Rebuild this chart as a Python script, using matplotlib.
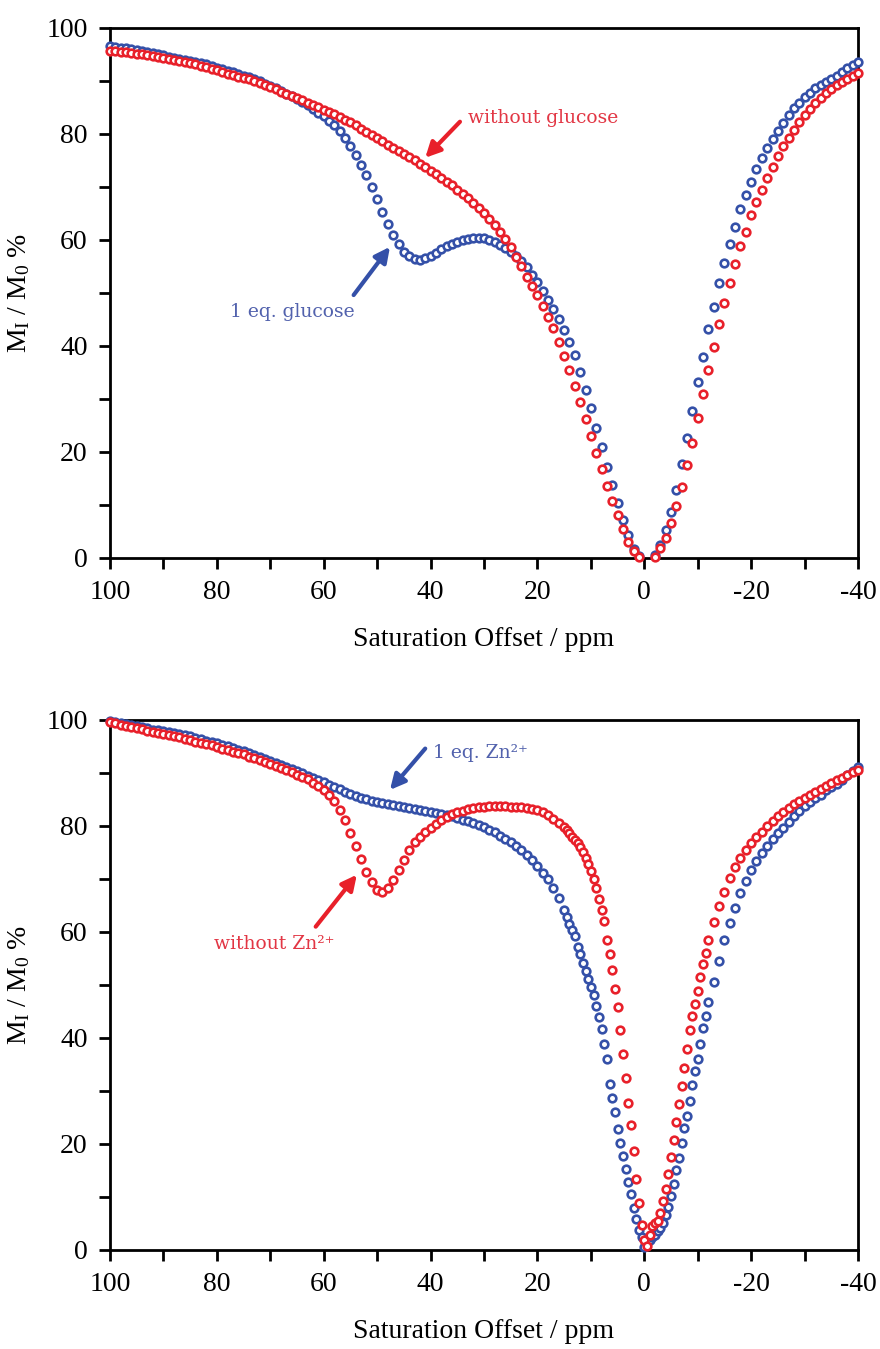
import numpy as np
import matplotlib
matplotlib.use('Agg')
import matplotlib.pyplot as plt
from matplotlib.ticker import MultipleLocator

plt.rcParams['font.family'] = ['Liberation Serif', 'DejaVu Serif']
plt.rcParams['mathtext.fontset'] = 'custom'
plt.rcParams['mathtext.rm'] = 'Liberation Serif'
plt.rcParams['mathtext.it'] = 'Liberation Serif:italic'
plt.rcParams['axes.unicode_minus'] = False

# ---- top panel: glucose, 1 ppm steps from 100 to -40 ----
ppm_top = np.arange(100, -40.5, -1.0)
top_without = [
    95.7, 95.6, 95.5, 95.4, 95.3, 95.1, 95.0, 94.8, 94.7, 94.5,   # 100..91
    94.3, 94.1, 93.9, 93.7, 93.5, 93.3, 93.1, 92.9, 92.6, 92.3,   # 90..81
    92.0, 91.7, 91.4, 91.1, 90.8, 90.6, 90.3, 90.0, 89.6, 89.2,   # 80..71
    88.8, 88.4, 88.0, 87.6, 87.2, 86.8, 86.4, 85.9, 85.5, 85.1,   # 70..61
    84.6, 84.2, 83.7, 83.2, 82.7, 82.2, 81.6, 81.0, 80.4, 79.8,   # 60..51
    79.2, 78.6, 78.0, 77.4, 76.8, 76.2, 75.6, 75.0, 74.4, 73.8,   # 50..41
    73.1, 72.4, 71.7, 71.0, 70.3, 69.5, 68.7, 67.9, 67.0, 66.1,   # 40..31
    65.1, 64.0, 62.8, 61.5, 60.2, 58.6, 56.8, 55.0, 53.0, 51.3,   # 30..21
    49.6, 47.5, 45.5, 43.4, 40.8, 38.1, 35.5, 32.5, 29.4, 26.2,   # 20..11
    23.0, 19.8, 16.8, 13.6, 10.8, 8.1, 5.5, 3.0, 1.3, 0.1,        # 10..1
    np.nan, np.nan, 0.1, 1.9, 3.8, 6.6, 9.8, 13.4, 17.5, 21.7,    # 0..-9
    26.4, 30.9, 35.5, 39.8, 44.2, 48.1, 51.9, 55.5, 58.9, 61.5,   # -10..-19
    64.7, 67.2, 69.4, 71.7, 73.8, 75.8, 77.7, 79.3, 80.8, 82.2,   # -20..-29
    83.5, 84.7, 85.8, 86.8, 87.7, 88.5, 89.2, 89.8, 90.4, 91.0,   # -30..-39
    91.5]
top_glucose = [
    96.5, 96.4, 96.3, 96.2, 96.0, 95.8, 95.6, 95.4, 95.2, 95.0,
    94.8, 94.6, 94.4, 94.2, 94.0, 93.8, 93.6, 93.4, 93.1, 92.8,
    92.5, 92.2, 91.9, 91.6, 91.3, 91.0, 90.7, 90.3, 89.9, 89.5,
    89.1, 88.6, 88.1, 87.6, 87.1, 86.6, 86.0, 85.4, 84.7, 84.0,
    83.3, 82.5, 81.6, 80.5, 79.2, 77.7, 76.1, 74.2, 72.2, 70.0,
    67.7, 65.3, 63.0, 61.0, 59.2, 57.8, 56.9, 56.4, 56.3, 56.5,
    57.0, 57.6, 58.2, 58.8, 59.3, 59.7, 60.0, 60.2, 60.4, 60.4,
    60.3, 60.0, 59.6, 59.1, 58.5, 57.8, 57.0, 56.0, 54.8, 53.4,
    52.0, 50.4, 48.7, 46.9, 45.0, 43.0, 40.7, 38.2, 35.0, 31.6,
    28.2, 24.6, 20.9, 17.2, 13.7, 10.3, 7.2, 4.3, 1.7, 0.3,
    np.nan, np.nan, 0.6, 2.5, 5.3, 8.7, 12.8, 17.7, 22.6, 27.7,
    33.2, 38.0, 43.2, 47.4, 51.9, 55.7, 59.2, 62.5, 65.8, 68.5,
    70.9, 73.4, 75.5, 77.4, 79.0, 80.6, 82.1, 83.5, 84.8, 85.9,
    86.9, 87.8, 88.6, 89.3, 89.8, 90.3, 91.0, 91.7, 92.4, 93.0,
    93.5]

# ---- bottom panel: Zn2+, 1 ppm outside, 0.5 ppm around the water peak ----
ppm_bot = np.concatenate([np.arange(100, 15.5, -1.0),
                          np.arange(15, -11.75, -0.5),
                          np.arange(-12, -40.5, -1.0)])
bot_without = [
    # 100..16
    99.6, 99.4, 99.1, 98.9, 98.7, 98.5, 98.3, 98.0, 97.8, 97.6,
    97.4, 97.2, 96.9, 96.7, 96.4, 96.2, 95.9, 95.7, 95.4, 95.2,
    94.9, 94.6, 94.3, 94.0, 93.7, 93.5, 93.1, 92.8, 92.4, 92.0,
    91.7, 91.3, 90.9, 90.5, 90.1, 89.7, 89.3, 88.8, 88.2, 87.6,
    86.8, 85.9, 84.7, 83.1, 81.1, 78.7, 76.2, 73.7, 71.4, 69.4,
    68.0, 67.6, 68.3, 69.8, 71.7, 73.6, 75.4, 76.9, 78.0, 78.9,
    79.7, 80.4, 81.1, 81.7, 82.2, 82.6, 82.9, 83.2, 83.4, 83.5,
    83.6, 83.7, 83.8, 83.8, 83.7, 83.6, 83.6, 83.5, 83.4, 83.2,
    83.0, 82.6, 82.1, 81.4, 80.6,
    # 15..-11.5
    79.8, 79.2, 78.6, 77.9, 77.3, 76.7, 76.0, 75.1, 74.0, 72.8,
    71.5, 70.0, 68.3, 66.2, 64.2, 62.0, 58.5, 55.8, 52.8, 49.2,
    45.8, 41.5, 37.0, 32.4, 27.8, 23.5, 18.6, 13.4, 8.8, 4.8,
    1.8, 0.8, 2.9, 4.5, 5.0, 5.4, 7.0, 9.2, 11.6, 14.3,
    17.6, 20.8, 24.2, 27.5, 31.0, 34.4, 38.0, 41.5, 44.2, 46.5,
    48.8, 51.5, 54.0, 56.1,
    # -12..-40
    58.4, 61.8, 64.9, 67.6, 70.1, 72.2, 74.0, 75.5, 76.8, 77.9,
    78.9, 80.0, 81.0, 81.9, 82.7, 83.4, 84.1, 84.8, 85.3, 85.8,
    86.4, 87.0, 87.5, 88.1, 88.6, 89.1, 89.7, 90.2, 90.6]
bot_zinc = [
    # 100..16
    99.8, 99.6, 99.4, 99.2, 99.0, 98.8, 98.6, 98.4, 98.2, 98.1,
    97.9, 97.7, 97.5, 97.3, 97.1, 96.9, 96.6, 96.4, 96.1, 95.9,
    95.6, 95.3, 95.0, 94.7, 94.4, 94.1, 93.8, 93.4, 93.0, 92.6,
    92.3, 91.9, 91.5, 91.1, 90.7, 90.3, 89.9, 89.5, 89.1, 88.7,
    88.3, 87.8, 87.3, 86.9, 86.4, 86.0, 85.6, 85.3, 85.0, 84.7,
    84.5, 84.3, 84.1, 84.0, 83.8, 83.6, 83.4, 83.2, 83.0, 82.8,
    82.6, 82.4, 82.3, 82.0, 81.8, 81.5, 81.2, 80.9, 80.6, 80.2,
    79.8, 79.3, 78.8, 78.2, 77.6, 77.0, 76.2, 75.4, 74.5, 73.5,
    72.4, 71.2, 69.9, 68.3, 66.4,
    # 15..-11.5
    64.2, 62.9, 61.5, 60.4, 59.2, 57.1, 55.9, 54.2, 52.6, 51.2,
    49.7, 48.1, 46.1, 43.9, 41.6, 38.9, 36.0, 31.4, 28.6, 26.0,
    22.9, 20.1, 17.7, 15.2, 12.8, 10.5, 8.0, 5.9, 3.8, 2.4,
    0.5, 1.3, 1.9, 2.4, 2.9, 3.5, 4.2, 5.1, 6.6, 8.2,
    10.1, 12.4, 15.1, 17.4, 20.1, 23.1, 25.3, 28.1, 31.1, 33.8,
    36.0, 38.9, 41.8, 44.2,
    # -12..-40
    46.7, 50.5, 54.6, 58.4, 61.6, 64.6, 67.4, 69.6, 71.6, 73.4,
    74.9, 76.3, 77.5, 78.6, 79.7, 80.8, 81.8, 82.8, 83.7, 84.5,
    85.2, 85.9, 86.7, 87.4, 88.0, 88.7, 89.6, 90.4, 91.2]

blue = '#3450a8'
red = '#e8202a'
blue_txt = '#5262ad'
red_txt = '#e23644'

fig = plt.figure(figsize=(8.8, 13.49), dpi=100)
ax1 = fig.add_axes([0.125, 0.5864, 0.85, 0.3929])
ax2 = fig.add_axes([0.125, 0.0734, 0.85, 0.3929])


def style(ax):
    ax.set_xlim(100, -40)
    ax.set_ylim(0, 100)
    ax.xaxis.set_major_locator(MultipleLocator(20))
    ax.xaxis.set_minor_locator(MultipleLocator(10))
    ax.yaxis.set_major_locator(MultipleLocator(20))
    ax.yaxis.set_minor_locator(MultipleLocator(10))
    ax.tick_params(which='both', direction='out', length=8, width=2,
                   top=False, right=False)
    ax.tick_params(which='major', labelsize=20, pad=8)
    for s in ax.spines.values():
        s.set_linewidth(2)
    ax.set_xlabel('Saturation Offset / ppm', fontsize=20, labelpad=16)
    ax.set_ylabel('M$_\\mathrm{I}$ / M$_0$ %', fontsize=20, labelpad=10)


def scatter(ax, x, y, c):
    ax.plot(x, y, 'o', ls='none', ms=5.5, mew=1.9, mfc='white', mec=c,
            clip_on=False, zorder=3)


def note(ax, text, xy, head, tail, c_arrow, c_txt):
    ax.annotate('', xy=head, xytext=tail,
                arrowprops=dict(arrowstyle='-|>,head_length=0.9,head_width=0.45',
                                color=c_arrow, lw=3, shrinkA=0, shrinkB=0))
    ax.text(xy[0], xy[1], text, color=c_txt, ha='left', va='center',
            fontsize=13.5, family=['DejaVu Serif'])


style(ax1)
scatter(ax1, ppm_top, top_glucose, blue)
scatter(ax1, ppm_top, top_without, red)
note(ax1, 'without glucose', (33, 83), (41, 75.5), (34.5, 82.3), red, red_txt)
note(ax1, '1 eq. glucose', (77.5, 46.4), (47.6, 58.7), (54.4, 49.6), blue, blue_txt)

style(ax2)
scatter(ax2, ppm_bot, bot_zinc, blue)
scatter(ax2, ppm_bot, bot_without, red)
note(ax2, '1 eq. Zn²⁺', (39.5, 93.8), (47.6, 86.8), (41.0, 94.6), blue, blue_txt)
note(ax2, 'without Zn²⁺', (80.5, 57.8), (53.8, 70.8), (61.5, 61.0), red, red_txt)

fig.savefig('out.png', dpi=100)
